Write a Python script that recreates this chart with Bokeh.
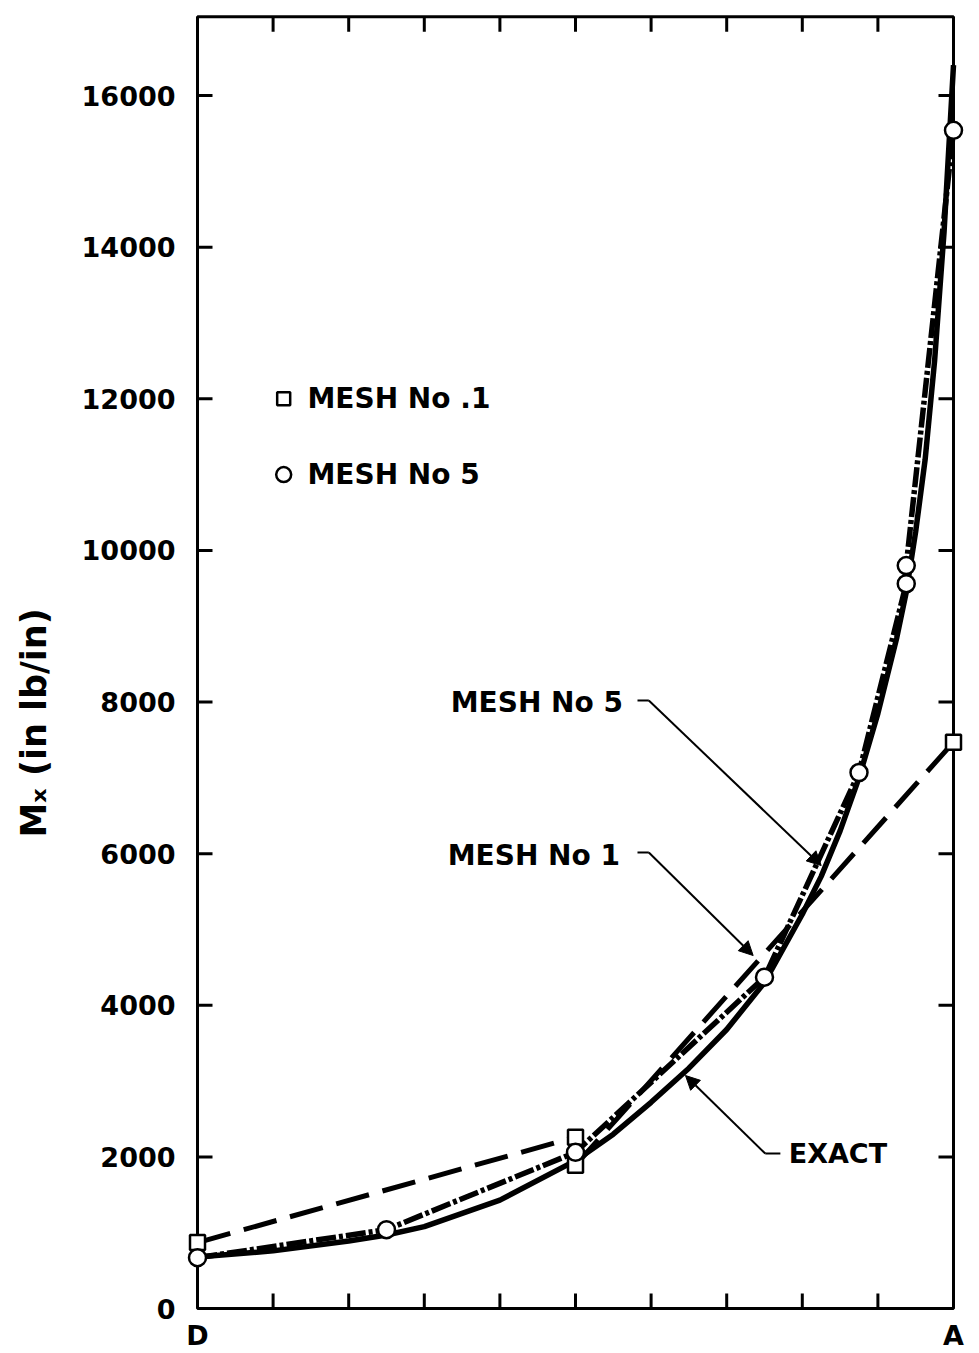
from bokeh.plotting import figure
from bokeh.models import LinearAxis, FixedTicker, Range1d, Label, Arrow, NormalHead
from bokeh.embed import file_html
from bokeh.resources import INLINE

# ---------------- data ----------------
x_ticks = [0, 1, 2, 3, 4, 5, 6, 7, 8, 9, 10]
x_tick_labels = {0: "D", 10: "A"}
y_ticks = [0, 2000, 4000, 6000, 8000, 10000, 12000, 14000, 16000]
x_min, x_max = 0, 10
y_frame_top = 17040

exact_x = [0, 1, 2, 2.5, 3, 4, 5, 5.5, 6, 6.5, 7, 7.5, 8, 8.25, 8.5, 8.75, 9.0, 9.25, 9.375, 9.5,
           9.625, 9.75, 9.875, 10]
exact_y = [680, 760, 890, 970, 1080, 1430, 1950, 2300, 2720, 3170, 3680, 4300, 5200, 5700, 6300,
           7000, 7850, 8850, 9450, 10250, 11200, 12500, 14200, 16400]

mesh1_left_x = [0, 5]
mesh1_left_y = [870, 2260]
mesh1_right_x = [5, 10]
mesh1_right_y = [1890, 7470]
mesh1_pts_x = [0, 5, 5, 10]
mesh1_pts_y = [870, 2260, 1890, 7470]

mesh5_x = [0, 2.5, 5, 7.5, 8.75, 9.375, 9.375, 10]
mesh5_y = [670, 1040, 2060, 4370, 7070, 9560, 9800, 15540]

FONT = "DejaVu Sans"
XS = 75.6          # px per x unit
YS = 1213 / 16000  # px per y unit

p = figure(width=979, height=1353, output_backend="svg", toolbar_location=None,
           x_range=Range1d(-12 / XS, 10 + 12 / XS),
           y_range=Range1d(-2 / YS, -2 / YS + 1297 / YS),
           x_axis_type=None, y_axis_type=None,
           min_border_left=185, min_border_right=14, min_border_top=13, min_border_bottom=43)
p.outline_line_color = None
p.xgrid.visible = False
p.ygrid.visible = False
p.background_fill_color = "white"
p.border_fill_color = "white"

# axes: only labels (box and inward ticks drawn below)
left = LinearAxis(ticker=FixedTicker(ticks=y_ticks))
bottom = LinearAxis(ticker=FixedTicker(ticks=list(x_tick_labels.keys())))
for ax in (left, bottom):
    ax.axis_line_color = None
    ax.major_tick_line_color = None
    ax.minor_tick_line_color = None
    ax.major_tick_in = 0
    ax.major_tick_out = 0
    ax.major_label_text_font = FONT
    ax.major_label_text_font_style = "bold"
    ax.major_label_text_font_size = "27px"
    ax.major_label_text_color = "black"
left.major_label_standoff = 10
bottom.major_label_standoff = 9
bottom.major_label_overrides = dict(x_tick_labels)
left.axis_label = "M\u2093  (in lb/in)" + "\u00a0" * 9
left.axis_label_text_font = FONT
left.axis_label_text_font_style = "bold"
left.axis_label_text_font_size = "35px"
left.axis_label_text_color = "black"
left.axis_label_standoff = 25
p.add_layout(left, "left")
p.add_layout(bottom, "below")

# frame box
p.quad(left=[x_min], right=[x_max], bottom=[0], top=[y_frame_top], fill_color=None,
       line_color="black", line_width=3)

# inward ticks
tl_x = 15 / XS
tl_y = 15 / YS
inner_y = [t for t in y_ticks if t > 0]
inner_x = [t for t in x_ticks if x_min < t < x_max]
p.segment(x0=[x_min] * len(inner_y), y0=inner_y, x1=[x_min + tl_x] * len(inner_y), y1=inner_y,
          line_color="black", line_width=3)
p.segment(x0=[x_max - tl_x] * len(inner_y), y0=inner_y, x1=[x_max] * len(inner_y), y1=inner_y,
          line_color="black", line_width=3)
p.segment(x0=inner_x, y0=[0] * len(inner_x), x1=inner_x, y1=[tl_y] * len(inner_x),
          line_color="black", line_width=3)
p.segment(x0=inner_x, y0=[y_frame_top - tl_y] * len(inner_x), x1=inner_x,
          y1=[y_frame_top] * len(inner_x), line_color="black", line_width=3)

# ---------------- curves ----------------
p.line(exact_x, exact_y, line_color="black", line_width=5.5, line_join="round")
p.line(mesh1_left_x, mesh1_left_y, line_color="black", line_width=5, line_dash="34 14")
p.line(mesh1_right_x, mesh1_right_y, line_color="black", line_width=5, line_dash="34 14")
p.line(mesh5_x, mesh5_y, line_color="black", line_width=5.5, line_dash="20 3 4 3")

p.scatter(mesh1_pts_x, mesh1_pts_y, marker="square", size=15, fill_color="white",
          line_color="black", line_width=2.5)
p.scatter(mesh5_x, mesh5_y, marker="circle", size=17, fill_color="white",
          line_color="black", line_width=2.5)

# ---------------- legend (drawn) ----------------
p.scatter([1.14], [12000], marker="square", size=13, fill_color="white", line_color="black",
          line_width=2.5)
p.scatter([1.14], [11000], marker="circle", size=15, fill_color="white", line_color="black",
          line_width=2.5)


def txt(x, y, s, size="28px"):
    p.add_layout(Label(x=x, y=y, text=s, text_font=FONT, text_font_style="bold",
                       text_font_size=size, text_color="black", text_align="left",
                       text_baseline="middle"))


txt(1.455, 12000, "MESH  No .1")
txt(1.455, 11000, "MESH  No 5")

# ---------------- annotations ----------------
txt(3.35, 7990, "MESH  No 5")
txt(3.31, 5975, "MESH  No 1")
txt(7.82, 2044, "EXACT", size="27px")


def leader(xh0, xh1, yh, xt, yt):
    p.line([xh0, xh1], [yh, yh], line_color="black", line_width=2)
    p.add_layout(Arrow(end=NormalHead(size=14, fill_color="black", line_color="black", line_width=1),
                       x_start=xh1, y_start=yh, x_end=xt, y_end=yt,
                       line_color="black", line_width=2))


leader(5.82, 5.97, 8020, 8.25, 5843)
leader(5.82, 5.97, 6015, 7.35, 4656)
leader(7.71, 7.51, 2044, 6.455, 3073)

open("out.html", "w").write(file_html(p, INLINE))
